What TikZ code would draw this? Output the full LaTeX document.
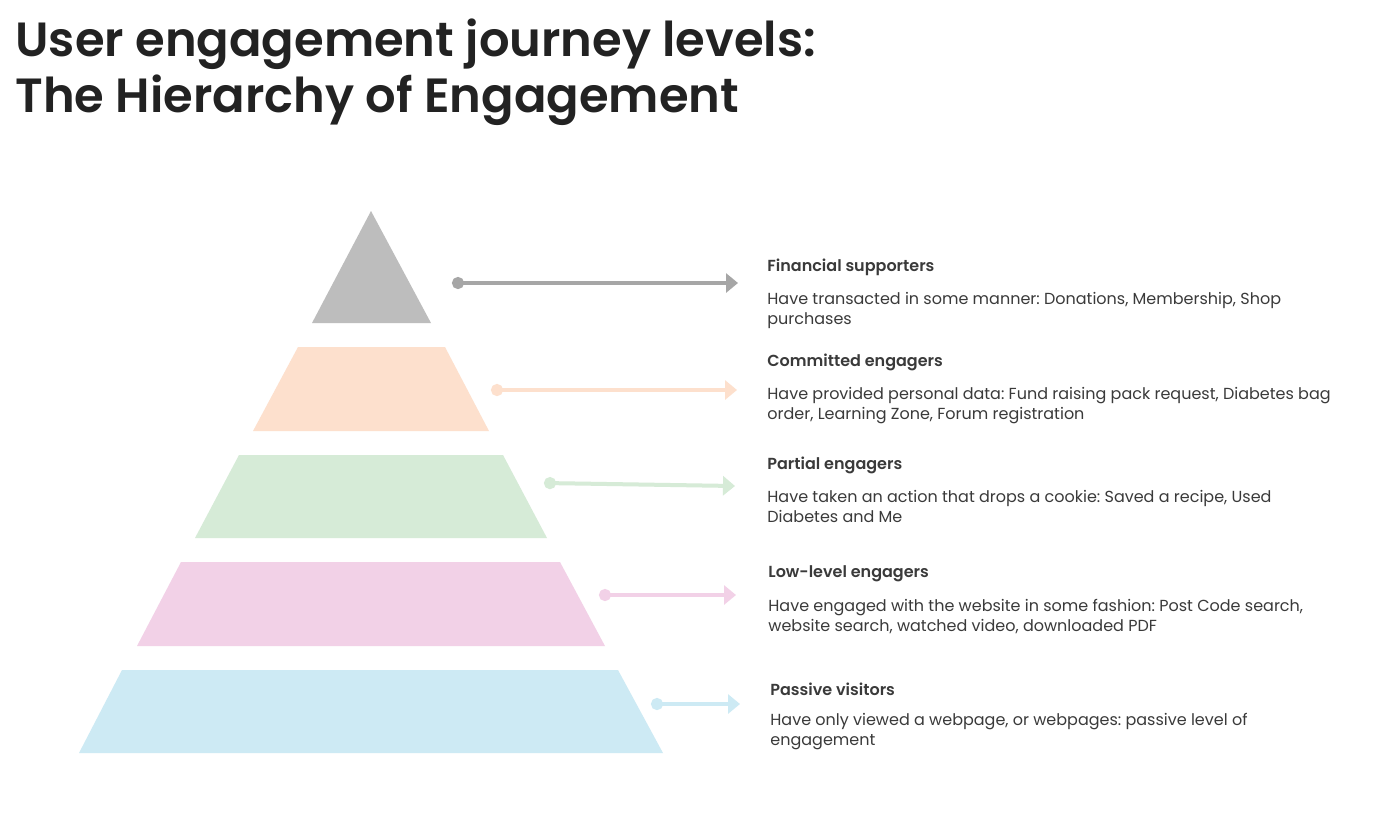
\documentclass[tikz,border=0pt]{standalone}
\usepackage{fontspec}
\setmainfont{Poppins}[BoldFont={Poppins SemiBold}]
\usetikzlibrary{arrows.meta}
\frenchspacing
\definecolor{lvlgray}{HTML}{BDBDBD}
\definecolor{arrgray}{HTML}{A6A6A6}
\definecolor{lvlpeach}{HTML}{FDE0CD}
\definecolor{lvlgreen}{HTML}{D6EBD7}
\definecolor{lvlpink}{HTML}{F2D1E7}
\definecolor{lvlblue}{HTML}{CDEAF4}
\definecolor{titleink}{HTML}{222222}
\definecolor{bodyink}{HTML}{3A3A3A}
\tikzset{
  lvlarrow/.style={{Circle[length=6pt]}-{Triangle[length=6pt,width=9.5pt]}, line width=2pt, draw=#1},
  lvlhead/.style={anchor=west, inner sep=0pt, text=bodyink, font=\fontsize{8}{10}\selectfont\bfseries},
  lvldesc/.style={anchor=north west, inner sep=0pt, align=left, text=bodyink, font=\fontsize{8}{10}\selectfont}
}

\begin{document}
\begin{tikzpicture}[x=0.5pt, y=-0.5pt]
\useasboundingbox[fill=white] (0,0) rectangle (1391,821);
% title
\node[anchor=north west, inner sep=0pt, align=left, text=titleink,
  font=\fontsize{24}{28}\selectfont\bfseries] (title) at (15,18)
  {User engagement journey levels:\\The Hierarchy of Engagement};
% pyramid levels
\fill[lvlgray] (371,211) -- (431,323) -- (312,323) -- cycle;
\fill[lvlpeach] (298,347) -- (445,347) -- (489,431) -- (253,431) -- cycle;
\fill[lvlgreen] (239,455) -- (503,455) -- (547,538) -- (195,538) -- cycle;
\fill[lvlpink] (181,562) -- (560,562) -- (605,646) -- (137,646) -- cycle;
\fill[lvlblue] (122,670) -- (618,670) -- (663,753) -- (79,753) -- cycle;
% labels
\node[lvlhead] (fin) at (767,267) {Financial supporters};
\node[lvldesc] (findesc) at (767,292) {Have transacted in some manner: Donations, Membership, Shop\\purchases};
\node[lvlhead] (com) at (767,362) {Committed engagers};
\node[lvldesc] (comdesc) at (767,387) {Have provided personal data: Fund raising pack request, Diabetes bag\\order, Learning Zone, Forum registration};
\node[lvlhead] (par) at (767,465) {Partial engagers};
\node[lvldesc] (pardesc) at (767,490) {Have taken an action that drops a cookie: Saved a recipe, Used\\Diabetes and Me};
\node[lvlhead] (low) at (768,574) {Low-level engagers};
\node[lvldesc] (lowdesc) at (768,599) {Have engaged with the website in some fashion: Post Code search,\\website search, watched video, downloaded PDF};
\node[lvlhead] (pas) at (770,689) {Passive visitors};
\node[lvldesc] (pasdesc) at (770,713) {Have only viewed a webpage, or webpages: passive level of\\engagement};
% arrows
\coordinate (fins) at (452,283);  \coordinate (fint) at (738,283);
\coordinate (coms) at (491,390);  \coordinate (comt) at (737,390);
\coordinate (pars) at (544,483);  \coordinate (part) at (735,486);
\coordinate (lows) at (599,595);  \coordinate (lowt) at (736,595);
\coordinate (pass) at (651,704);  \coordinate (past) at (740,704);
\draw[lvlarrow=arrgray] (fins) -- (fint);
\draw[lvlarrow=lvlpeach] (coms) -- (comt);
\draw[lvlarrow=lvlgreen] (pars) -- (part);
\draw[lvlarrow=lvlpink] (lows) -- (lowt);
\draw[lvlarrow=lvlblue] (pass) -- (past);
\end{tikzpicture}
\end{document}
